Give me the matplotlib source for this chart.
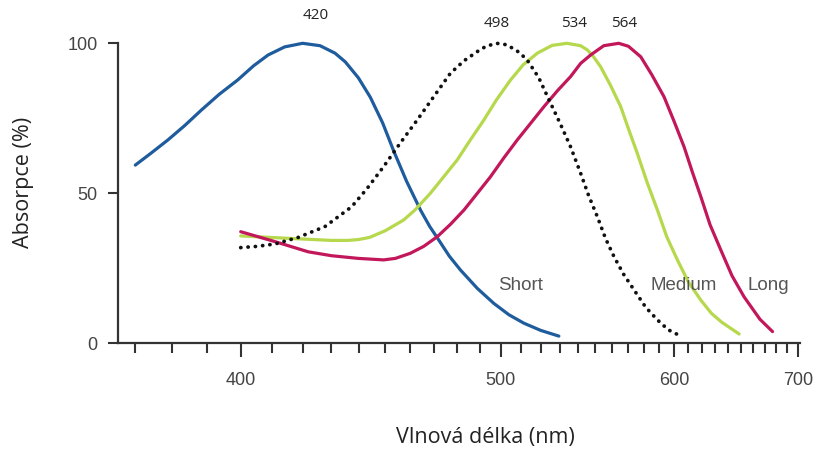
import matplotlib
matplotlib.use("Agg")
import matplotlib.pyplot as plt
import numpy as np
from matplotlib.ticker import FixedLocator, NullFormatter

# wavelengths (nm) and absorption (%)
short_nm = [370, 374, 378.8, 383.5, 388.3, 393.5, 399.1, 404, 408.6, 414, 420,
            426, 431.3, 435, 439.8, 444.3, 449, 453.4, 458.5, 464.2, 468,
            471.9, 476.5, 481.4, 489, 496.7, 504, 511.4, 520, 529.6]
short_val = [59.4, 63.2, 67.8, 72.6, 77.8, 83, 87.8, 92.5, 96.1, 98.8, 100,
             99.2, 96.7, 93.8, 88.5, 82, 73.5, 64, 54, 44.4, 39,
             34.4, 29, 24.4, 18.3, 13.3, 9.5, 6.7, 4.3, 2.4]

rod_nm = [400, 405, 410.8, 418.5, 427.7, 437.3, 443, 449.4, 456, 462.8, 470,
          476.9, 483, 488.9, 493, 498, 503, 509, 513.1, 519, 525.2, 530.5,
          536, 541.6, 546, 551.2, 556, 561.1, 567, 573.5, 581, 588.7, 596, 604.7]
rod_val = [31.9, 32.3, 33.1, 35.3, 38.9, 45.5, 51.5, 58.9, 66.8, 74.4, 82.5,
           90, 94.2, 97.2, 99, 100, 99.5, 97, 94.4, 88.5, 80, 73,
           65.5, 56.7, 49.5, 42.2, 35, 28.9, 23, 17.8, 12, 7.8, 4.5, 2.4]

medium_nm = [400, 415, 430, 436, 440, 444, 450, 457.3, 462, 468.3, 474, 479.9,
             486, 492, 498, 504.8, 511, 518.2, 526, 534, 541.6, 545.4, 549,
             553.1, 559, 565.2, 570, 575.6, 582, 588.7, 595, 602.3, 610, 619.1,
             627, 635, 648.7]
medium_val = [35.8, 35, 34.3, 34.3, 34.6, 35.3, 37.5, 41.1, 44.5, 50, 55.5, 61.1,
              68, 74.4, 81.2, 87.8, 92.8, 96.7, 99.3, 100, 99.2, 97.8, 95.5,
              92.2, 86, 78.9, 71.5, 63.3, 53.5, 44.4, 35.5, 27.8, 20.5, 14.4,
              10, 7, 3.1]

long_nm = [400, 410.8, 421.9, 430, 439.8, 449.4, 454, 460, 465.5, 471.2, 477,
           482.9, 489, 495.1, 501.5, 508.1, 515, 521.7, 529, 536, 541.6, 547.3,
           555, 564, 570, 577.8, 585, 593.1, 600, 607, 613, 619.1, 626, 634.2,
           643, 652.7, 666, 676.9]
long_val = [37.2, 33.9, 30.5, 29.2, 28.3, 27.8, 28.3, 30, 32.3, 35.5, 39.7,
            44.4, 50, 55.5, 61.8, 67.8, 73.5, 78.9, 84.3, 88.9, 93.3, 96.1,
            99.2, 100, 99, 95.5, 89.5, 82.2, 74, 65.5, 57, 48.9, 39.5, 31.1,
            22.5, 15.5, 8, 3.9]

curve_names = ["Short", "Medium", "Long"]
name_pos_nm = [509.7, 606.8, 672.8]
name_pos_val = [19.4, 19.4, 19.4]

peak_labels = ["420", "498", "534", "564"]
peak_pos_nm = [424.5, 498, 537.7, 567.4]
peak_pos_val = [109.2, 106.6, 106.6, 106.6]

major_ticks = [400, 500, 600, 700]
minor_ticks = list(range(370, 701, 10))
y_ticks = [0, 50, 100]

fig = plt.figure(figsize=(8.18, 4.5), dpi=100)
ax = fig.add_axes([118 / 818, 1 - 343.3 / 450, (800 - 118) / 818, 300 / 450])

# reciprocal (wavenumber-like) wavelength axis
ax.set_xscale('function', functions=(lambda x: -1.0 / np.asarray(x, dtype=float),
                                     lambda y: -1.0 / np.asarray(y, dtype=float)))
ax.set_xlim(365.5, 702)
ax.set_ylim(0, 100)

lw = 2.3
ax.plot(short_nm, short_val, color='#1f5c9e', lw=lw, clip_on=False, solid_capstyle='round')
ax.plot(medium_nm, medium_val, color='#b6d84c', lw=lw, clip_on=False, solid_capstyle='round')
ax.plot(long_nm, long_val, color='#c2185b', lw=lw, clip_on=False, solid_capstyle='round')
ax.plot(rod_nm, rod_val, color='#111111', lw=2.7, linestyle=(0, (0.05, 1.9)),
        dash_capstyle='round', clip_on=False)

for name, x, y in zip(curve_names, name_pos_nm, name_pos_val):
    ax.text(x, y, name, ha='center', va='center', fontsize=13.5,
            color='#555555', family='Liberation Sans')

for lab, x, y in zip(peak_labels, peak_pos_nm, peak_pos_val):
    ax.text(x, y, lab, ha='center', va='center', fontsize=11,
            color='#222222', family='Open Sans', clip_on=False)

ax.xaxis.set_major_locator(FixedLocator(major_ticks))
ax.xaxis.set_minor_locator(FixedLocator(minor_ticks))
ax.xaxis.set_minor_formatter(NullFormatter())
ax.set_xticklabels([str(t) for t in major_ticks])
ax.set_yticks(y_ticks)
ax.set_yticklabels([str(t) for t in y_ticks])

for side in ['top', 'right']:
    ax.spines[side].set_visible(False)
for side in ['left', 'bottom']:
    ax.spines[side].set_color('#333333')
    ax.spines[side].set_linewidth(1.6)

ax.tick_params(axis='x', which='major', length=10, width=1.5, color='#333333',
               pad=11, labelsize=13, labelcolor='#444444')
ax.tick_params(axis='x', which='minor', length=7.5, width=1.5, color='#333333')
ax.tick_params(axis='y', which='major', length=7.5, width=1.5, color='#333333',
               pad=7, labelsize=13, labelcolor='#444444')
for lab in ax.get_xticklabels() + ax.get_yticklabels():
    lab.set_family('Liberation Sans')

fig.text(485 / 818, 1 - 437 / 450, "Vlnová délka (nm)", ha='center', va='center',
         fontsize=15.5, color='#222222', family='Open Sans')
fig.text(24 / 818, 1 - 182 / 450, "Absorpce (%)", ha='center', va='center',
         rotation=90, fontsize=15.5, color='#222222', family='Open Sans')

fig.savefig("out.png", dpi=100)
